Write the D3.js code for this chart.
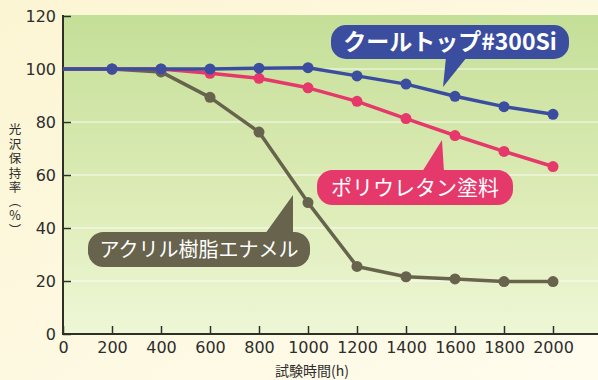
<!DOCTYPE html>
<html>
<head>
<meta charset="utf-8">
<script src="https://cdn.jsdelivr.net/npm/d3@7"></script>
<style>
  html, body { margin: 0; padding: 0; }
  body { width: 598px; height: 380px; overflow: hidden; }
  svg { display: block; }
</style>
</head>
<body>
<svg width="598" height="380"></svg>
<script>
// data
var hours = [0, 200, 400, 600, 800, 1000, 1200, 1400, 1600, 1800, 2000]
var coolTop = [100, 100, 100, 100, 100.3, 100.5, 97.4, 94.3, 89.7, 85.8, 82.9]
var urethane = [100, 100, 100, 98.4, 96.5, 92.9, 87.8, 81.3, 74.9, 68.9, 63.2]
var acrylic = [100, 100, 98.9, 89.3, 76.2, 49.6, 25.5, 21.6, 20.8, 19.8, 19.8]
var xTicks = [0, 200, 400, 600, 800, 1000, 1200, 1400, 1600, 1800, 2000]
var yTicks = [0, 20, 40, 60, 80, 100, 120]
var yTitleChars = ['光', '沢', '保', '持', '率', '︵', '%', '︶']

var series = [
    { name: 'アクリル樹脂エナメル', values: acrylic, color: '#67634d' },
    { name: 'ポリウレタン塗料', values: urethane, color: '#e5386b' },
    { name: 'クールトップ#300Si', values: coolTop, color: '#3b4d9f' }
]

var svg = d3.select('svg')
var width = 598, height = 380

var x = d3.scaleLinear().domain([0, 2000]).range([63, 553])
var y = d3.scaleLinear().domain([0, 120]).range([334, 16])

var defs = svg.append('defs')
var pageGrad = defs.append('linearGradient')
    .attr('id', 'pageBg')
    .attr('x1', 0).attr('y1', 0).attr('x2', 1).attr('y2', 1)
pageGrad.append('stop').attr('offset', '0%').attr('stop-color', '#fcf5d3')
pageGrad.append('stop').attr('offset', '100%').attr('stop-color', '#fffcee')

var plotGrad = defs.append('linearGradient')
    .attr('id', 'plotBg')
    .attr('x1', 0).attr('y1', 0).attr('x2', 0).attr('y2', 1)
plotGrad.append('stop').attr('offset', '0%').attr('stop-color', '#c4df98')
plotGrad.append('stop').attr('offset', '55%').attr('stop-color', '#dcebb5')
plotGrad.append('stop').attr('offset', '100%').attr('stop-color', '#eef7d6')

svg.append('rect')
    .attr('width', width).attr('height', height)
    .style('fill', 'url(#pageBg)')

svg.append('rect')
    .attr('x', x(0)).attr('y', y(120) - 1)
    .attr('width', width - x(0)).attr('height', y(0) - y(120) + 1)
    .style('fill', 'url(#plotBg)')

// white gridlines
svg.append('g')
    .selectAll('line')
    .data(yTicks.filter(d => d > 0 && d < 120))
    .join('line')
    .attr('x1', x(0)).attr('x2', width)
    .attr('y1', d => y(d)).attr('y2', d => y(d))
    .style('stroke', '#ffffff')
    .style('stroke-opacity', 0.85)
    .style('stroke-width', 1)

// axes
var xAxis = svg.append('g')
    .attr('transform', 'translate(0,' + y(0) + ')')
    .call(d3.axisBottom(x).tickValues(xTicks).tickSize(-8).tickPadding(8).tickFormat(d3.format('d')))
xAxis.select('.domain').remove()
xAxis.append('line')
    .attr('x1', x(0) - 1).attr('x2', width)
    .style('stroke', '#2f2f28').style('stroke-width', 2)

var yAxis = svg.append('g')
    .attr('transform', 'translate(' + x(0) + ',0)')
    .call(d3.axisLeft(y).tickValues(yTicks).tickSize(-8).tickPadding(7))
yAxis.select('.domain').remove()
yAxis.append('line')
    .attr('y1', y(120) - 1).attr('y2', y(0) + 1)
    .style('stroke', '#2f2f28').style('stroke-width', 2)

svg.selectAll('.tick line')
    .style('stroke', '#2f2f28').style('stroke-width', 1.5)
svg.selectAll('.tick text')
    .style('font-family', '"DejaVu Sans", sans-serif')
    .style('font-size', '16px')
    .style('fill', '#2d2d2d')
yAxis.selectAll('.tick text').attr('dy', '0.35em')

// axis titles
svg.append('text')
    .attr('x', 312).attr('y', 376)
    .attr('text-anchor', 'middle')
    .style('font-family', '"Noto Sans CJK JP", sans-serif')
    .style('font-size', '14px')
    .style('fill', '#2d2d2d')
    .text('試験時間(h)')

svg.append('g')
    .selectAll('text')
    .data(yTitleChars)
    .join('text')
    .attr('x', 15)
    .attr('y', (d, i) => 134 + i * 14.5 - (i > 4 ? 1 : 0))
    .attr('text-anchor', 'middle')
    .style('font-family', '"Noto Sans CJK JP", sans-serif')
    .style('font-size', '12.5px')
    .style('fill', '#2d2d2d')
    .text(d => d)

// lines and markers
var line = d3.line()
    .x((d, i) => x(hours[i]))
    .y(d => y(d))

series.forEach(function (s) {
    var g = svg.append('g')
    g.append('path')
        .datum(s.values)
        .attr('d', line)
        .style('fill', 'none')
        .style('stroke', s.color)
        .style('stroke-width', 3.5)
        .style('stroke-linejoin', 'round')
    g.selectAll('circle')
        .data(s.values.map((v, i) => [hours[i], v]).filter(d => d[0] > 0))
        .join('circle')
        .attr('cx', d => x(d[0]))
        .attr('cy', d => y(d[1]))
        .attr('r', 5.5)
        .style('fill', s.color)
})

// callout labels
var callouts = [
    { text: 'クールトップ#300Si', color: '#3b4d9f', box: [331, 25, 238, 34], tip: [443, 87], base: [446, 467], bold: true, size: 23 },
    { text: 'ポリウレタン塗料', color: '#e5386b', box: [317, 170, 196, 35], tip: [442, 140], base: [422, 444], bold: false, size: 21 },
    { text: 'アクリル樹脂エナメル', color: '#67634d', box: [88, 232, 222, 35], tip: [293, 195], base: [265, 293], bold: false, size: 20 }
]

callouts.forEach(function (c) {
    var g = svg.append('g')
    var bx = c.box[0], by = c.box[1], bw = c.box[2], bh = c.box[3]
    var edge = c.tip[1] > by ? by + bh - 2 : by + 2
    g.append('path')
        .attr('d', 'M' + c.base[0] + ',' + edge + 'L' + c.tip[0] + ',' + c.tip[1] + 'L' + c.base[1] + ',' + edge + 'Z')
        .style('fill', c.color)
    g.append('rect')
        .attr('x', bx).attr('y', by)
        .attr('width', bw).attr('height', bh)
        .attr('rx', bh / 2 - 2)
        .style('fill', c.color)
    g.append('text')
        .attr('x', bx + bw / 2).attr('y', by + bh / 2)
        .attr('dy', '0.36em')
        .attr('text-anchor', 'middle')
        .style('font-family', '"Noto Sans CJK JP", sans-serif')
        .style('font-weight', c.bold ? 'bold' : 'normal')
        .style('font-size', c.size + 'px')
        .style('fill', '#ffffff')
        .text(c.text)
})
</script>
</body>
</html>
